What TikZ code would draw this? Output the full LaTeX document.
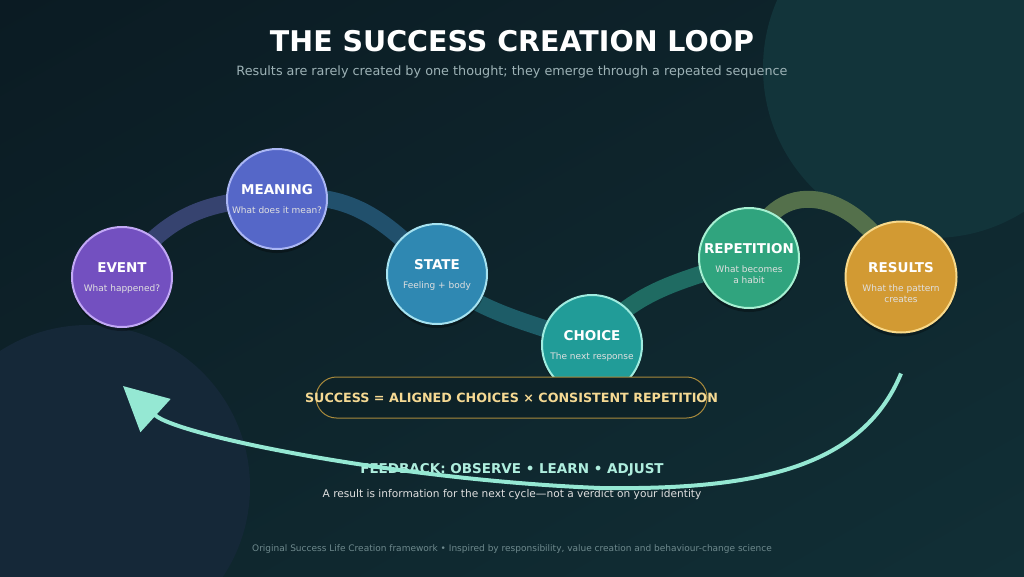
\documentclass[tikz,border=0pt]{standalone}
\usepackage{fontspec}
\setmainfont{DejaVu Sans}
\usetikzlibrary{arrows.meta,shadows,shadings,positioning}

\pgfdeclarelayer{bg}
\pgfsetlayers{bg,main}

% Farben
\definecolor{bgdark}{HTML}{0B1B23}
\definecolor{bgmid}{HTML}{0E252C}
\definecolor{bglight}{HTML}{112F36}
\definecolor{blobtr}{HTML}{12343A}
\definecolor{blobbl}{HTML}{152838}
\definecolor{mint}{HTML}{95E8D3}
\definecolor{gold}{HTML}{F5D993}
\definecolor{goldline}{HTML}{A98A3C}
\definecolor{pillfill}{HTML}{0D2228}
\definecolor{subgray}{HTML}{9DB2B6}
\definecolor{footgray}{HTML}{6E898D}
\definecolor{evfill}{HTML}{7350C0}\definecolor{evline}{HTML}{C2A8F6}
\definecolor{mefill}{HTML}{5567C8}\definecolor{meline}{HTML}{AAB6F4}
\definecolor{stfill}{HTML}{2F88B2}\definecolor{stline}{HTML}{A6E2F0}
\definecolor{chfill}{HTML}{219C98}\definecolor{chline}{HTML}{A0ECE0}
\definecolor{refill}{HTML}{30A47E}\definecolor{reline}{HTML}{A6F0D2}
\definecolor{rsfill}{HTML}{D29A33}\definecolor{rsline}{HTML}{F8D98A}
\definecolor{bandA}{HTML}{36436F}
\definecolor{bandB}{HTML}{21506C}
\definecolor{bandC}{HTML}{1D5C67}
\definecolor{bandD}{HTML}{1F6B62}
\definecolor{bandE}{HTML}{54704B}

\tikzset{
  stepcircle/.style={circle, draw, line width=2pt, inner sep=0pt,
      drop shadow={shadow xshift=0pt, shadow yshift=-4pt, opacity=0.3, fill=black}},
  steptitle/.style={font=\bfseries\fontsize{13.5}{16}\selectfont, text=white, inner sep=0pt},
  stepsub/.style={font=\fontsize{9}{11}\selectfont, text=white!88!black, align=center, inner sep=0pt},
  band/.style={line width=17pt, line cap=round},
  pill/.style={draw=goldline, line width=1pt, fill=pillfill, rounded corners=20.5pt,
      minimum width=391pt, minimum height=41pt},
  formulatext/.style={font=\bfseries\fontsize{12.7}{15}\selectfont, text=gold},
  feedback/.style={mint, line width=4pt, -{Triangle[length=44pt,width=44pt]}},
}

\begin{document}
\begin{tikzpicture}[x=1pt, y=-1pt]

    \useasboundingbox (0,0) rectangle (1024,576);

    % Hintergrund
    \begin{pgfonlayer}{bg}
        \shade[upper left=bgdark, upper right=bgmid, lower left=bgmid, lower right=bglight]
        (0,0) rectangle (1024,576);
        \fill[blobtr] (933,68) circle (170pt);
        \fill[blobbl] (88,487) circle (162pt);
    \end{pgfonlayer}

    % Stationen der Schleife
    \foreach \nm/\px/\py/\sz/\fc/\lc/\ttl/\sbt in {
            event/122/277/100/evfill/evline/EVENT/{What happened?},
            meaning/277/199/100/mefill/meline/MEANING/{What does it mean?},
            state/437/274/100/stfill/stline/STATE/{Feeling + body},
            choice/592/345/100/chfill/chline/CHOICE/{The next response},
            repetition/749/258/100/refill/reline/REPETITION/{What becomes\\a habit},
            results/901/277/111/rsfill/rsline/RESULTS/{What the pattern\\creates}} {
            \node[stepcircle, fill=\fc, draw=\lc, minimum size=\sz pt] (\nm) at (\px,\py) {};
            \node[steptitle] (\nm-title) at ([yshift=9pt]\nm.center) {\ttl};
            \node[stepsub, anchor=north] (\nm-sub) at ([yshift=-7pt]\nm.center) {\sbt};
        }

    % Band hinter den Kreisen
    \begin{pgfonlayer}{bg}
        \draw[band, bandA] (event.center) .. controls +(40,-60) and +(-70,0) .. (meaning.center);
        \draw[band, bandB] (meaning.center) .. controls +(70,-10) and +(-50,-55) .. (state.center);
        \draw[band, bandC] (state.center) .. controls +(40,40) and +(-50,-20) .. (choice.center);
        \draw[band, bandD] (choice.center) .. controls +(40,-60) and +(-50,20) .. (repetition.center);
        \draw[band, bandE] (repetition.center) .. controls +(20,-90) and +(-40,-90) .. (results.center);
    \end{pgfonlayer}

    % Formel
    \node[pill] (formula) at (511.5,397.5) {};
    \node[formulatext] (formula-text) at (formula.center) {SUCCESS = ALIGNED CHOICES × CONSISTENT REPETITION};

    % Titel und Texte
    \node[font=\bfseries\fontsize{28.5}{32}\selectfont, text=white] (title) at (512,41) {THE SUCCESS CREATION LOOP};
    \node[font=\fontsize{12.8}{15}\selectfont, text=subgray] (subtitle) at (512,72)
    {Results are rarely created by one thought; they emerge through a repeated sequence};
    \node[font=\bfseries\fontsize{13.5}{16}\selectfont, text=mint!75!white] (fb-title) at (512,470)
    {FEEDBACK: OBSERVE • LEARN • ADJUST};
    \node[font=\fontsize{10.6}{13}\selectfont, text=white!75!gray] (fb-sub) at (512,495)
    {A result is information for the next cycle—not a verdict on your identity};
    \node[font=\fontsize{9}{11}\selectfont, text=footgray] (footer) at (512,549)
    {Original Success Life Creation framework • Inspired by responsibility, value creation and behaviour-change science};

    % Rueckkopplung
    \coordinate (fb-start) at ([yshift=-40pt]results.south);
    \coordinate (fb-mid) at (600,488);
    \coordinate (fb-end) at ([xshift=1pt, yshift=-58pt]event.south);
    \draw[feedback] (fb-start) .. controls +(-40,97) and +(150,2) .. (fb-mid)
    .. controls +(-200,-8) and +(55,50) .. (fb-end);

\end{tikzpicture}
\end{document}
